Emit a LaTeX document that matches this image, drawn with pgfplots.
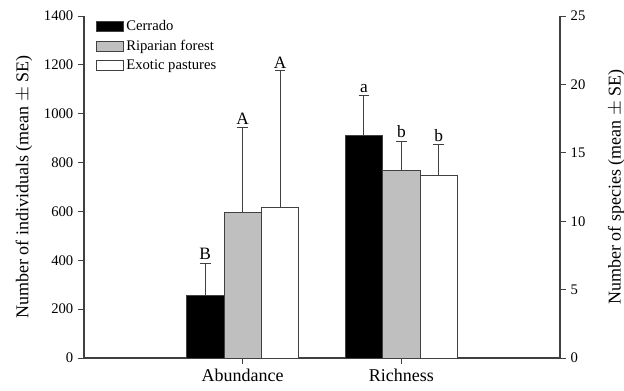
\documentclass[border=0pt]{standalone}
\usepackage{pgfplots}
\pgfplotsset{compat=1.18}
\usepackage{fontspec}
\setmainfont{Liberation Serif}
\definecolor{axc}{gray}{0.25}
\definecolor{barg}{gray}{0.75}
\begin{document}
\begin{tikzpicture}
\pgfplotsset{
  common/.style={
    width=357pt, height=256.5pt, scale only axis,
    xmin=-1, xmax=2, ymin=0,
    /pgf/number format/assume math mode=true,
    /pgf/number format/1000 sep={},
    yticklabel style={font=\fontsize{11}{13}\selectfont},
    xticklabel style={font=\fontsize{13.5}{16}\selectfont},
    label style={font=\fontsize{13.5}{16}\selectfont},
    tick align=outside, major tick length=4.5pt,
    every tick/.style={axc, line width=0.6pt},
    axis line style={axc, line width=0.8pt},
    error bars/error bar style={axc, line width=0.8pt},
    error bars/error mark options={axc, line width=0.8pt, mark size=4pt, rotate=90},
  },
  mybar/.style={ybar, bar width=0.236, bar shift=0pt, draw=axc, line width=0.6pt, fill=#1,
    error bars/.cd, y dir=plus, y explicit},
}
\begin{axis}[common, name=ax,
  axis y line*=left, axis x line*=bottom,
  ymax=1400, ytick={0,200,...,1400},
  xtick={0,1}, xticklabels={Abundance,Richness},
  ylabel={Number of individuals (mean $\pm$ SE)},
  ylabel style={at={(ticklabel cs:0.5)}, anchor=south, yshift=2pt},
  legend style={at={(0.025,0.995)}, anchor=north west, draw=none, fill=none,
    font=\fontsize{11}{13}\selectfont, row sep=1.5pt, inner sep=0pt,
    /tikz/every even column/.append style={column sep=0pt}},
  legend cell align=left,
  legend image code/.code={\draw[#1, line width=0.6pt] (0pt,-3.7pt) rectangle (20pt,3.7pt);},
]
\addplot[mybar=black] coordinates {(-0.236,255) +- (0,133)};
\addlegendentry{Cerrado}
\addplot[mybar=barg] coordinates {(0,598) +- (0,345)};
\addlegendentry{Riparian forest}
\addplot[mybar=white] coordinates {(0.236,618) +- (0,557)};
\addlegendentry{Exotic pastures}
\node[anchor=south, font=\fontsize{13}{15}\selectfont, inner sep=2.5pt] at (axis cs:-0.236,388) {B};
\node[anchor=south, font=\fontsize{13}{15}\selectfont, inner sep=2pt] at (axis cs:0,943) {A};
\node[anchor=south, font=\fontsize{13}{15}\selectfont, inner sep=2pt] at (axis cs:0.236,1175) {A};
\end{axis}
\begin{axis}[common,
  axis y line*=right, axis x line=none,
  ymax=25, ytick={0,5,...,25},
  ylabel={Number of species (mean $\pm$ SE)},
  ylabel style={yshift=-10pt},
]
\addplot[mybar=black] coordinates {(0.764,16.25) +- (0,2.92)};
\addplot[mybar=barg] coordinates {(1,13.74) +- (0,2.12)};
\addplot[mybar=white] coordinates {(1.236,13.35) +- (0,2.27)};
\node[anchor=south, font=\fontsize{13}{15}\selectfont, inner sep=2pt] at (axis cs:0.764,19.17) {a};
\node[anchor=south, font=\fontsize{13}{15}\selectfont, inner sep=2pt] at (axis cs:1,15.86) {b};
\node[anchor=south, font=\fontsize{13}{15}\selectfont, inner sep=2pt] at (axis cs:1.236,15.62) {b};
\end{axis}
\pgfresetboundingbox
\path[use as bounding box] ([shift={(-63pt,-24pt)}]ax.south west) rectangle ([shift={(48pt,12pt)}]ax.north east);
\end{tikzpicture}
\end{document}
